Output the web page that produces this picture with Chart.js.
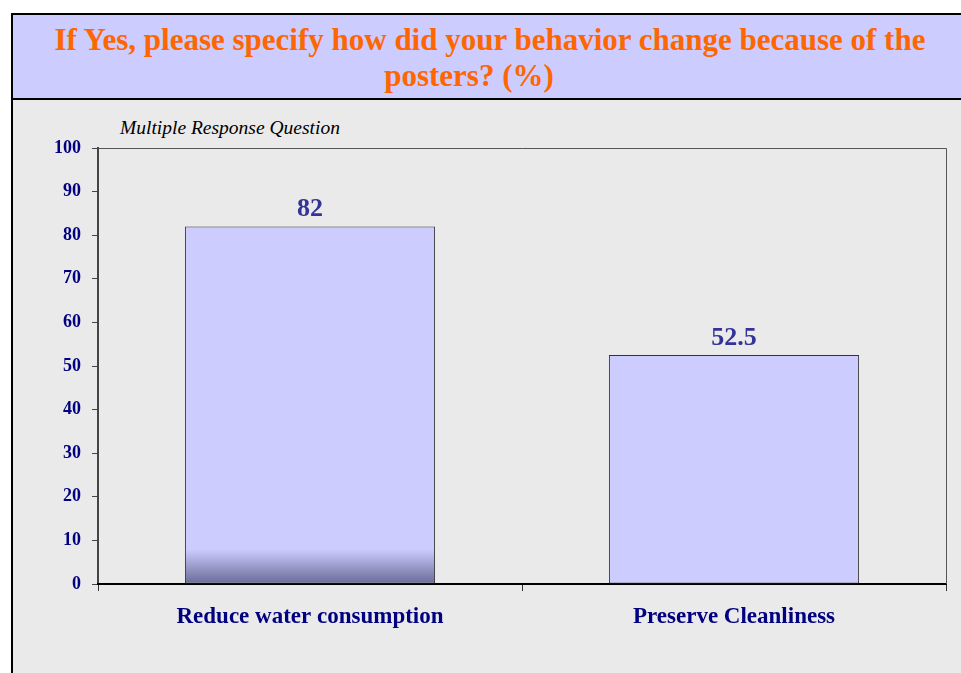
<!DOCTYPE html>
<html>
<head>
<meta charset="utf-8">
<script src="https://cdn.jsdelivr.net/npm/chart.js@4"></script>
<style>
  html, body { margin: 0; padding: 0; background: #ffffff; width: 961px; height: 673px; overflow: hidden; }
  #frame {
    position: absolute; left: 11px; top: 13px; width: 960px; height: 670px;
    border-left: 2px solid #000; border-top: 2px solid #000; background: #eaeaea;
  }
  #titleBand {
    position: absolute; left: 0; top: 0; width: 100%; height: 83px;
    background: #ccccff; border-bottom: 2px solid #000;
  }
  #titleText {
    position: absolute; left: 0; top: 7px; width: 954px; text-align: center;
    font: bold 31px "Liberation Serif", "Times New Roman", serif; line-height: 36px; color: #ff6600;
  }
  #titleText .l2 { padding-right: 42px; }
  #subNote {
    position: absolute; left: 107px; top: 102px;
    font: italic 19.5px "Liberation Serif", "Times New Roman", serif; color: #000;
  }
  #chartWrap { position: absolute; left: 2px; top: 87px; width: 948px; height: 573px; }
</style>
</head>
<body>
<div id="frame">
  <div id="titleBand">
    <div id="titleText">If Yes, please specify how did your behavior change because of the<br><span class="l2">posters? (%)</span></div>
  </div>
  <div id="subNote">Multiple Response Question</div>
  <div id="chartWrap"><canvas id="chart" width="948" height="573"></canvas></div>
</div>

<script>
// ---- data ----
const categories = ["Reduce water consumption", "Preserve Cleanliness"];
const values = [82, 52.5];
const yTicks = [0, 10, 20, 30, 40, 50, 60, 70, 80, 90, 100];

const SERIF = '"Liberation Serif", "Times New Roman", serif';

// frame on top + right of the plot area
const plotFrame = {
  id: "plotFrame",
  beforeDatasetsDraw(chart) {
    const { ctx, chartArea: a } = chart;
    ctx.save();
    ctx.strokeStyle = "#555";
    ctx.lineWidth = 1;
    ctx.beginPath();
    ctx.moveTo(a.left, a.top + 0.5);
    ctx.lineTo(a.right + 0.5, a.top + 0.5);
    ctx.lineTo(a.right + 0.5, a.bottom);
    ctx.stroke();
    ctx.restore();
  },
};

// value labels above the bars
const valueLabels = {
  id: "valueLabels",
  afterDatasetsDraw(chart) {
    const { ctx } = chart;
    const meta = chart.getDatasetMeta(0);
    ctx.save();
    ctx.font = "bold 26px " + SERIF;
    ctx.fillStyle = "#333399";
    ctx.textAlign = "center";
    ctx.textBaseline = "alphabetic";
    meta.data.forEach((bar, i) => {
      ctx.fillText(String(values[i]), bar.x, bar.y - 10);
    });
    ctx.restore();
  },
};

function barFill(c) {
  const chart = c.chart;
  const { ctx, chartArea } = chart;
  if (!chartArea) return "#ccccff";
  if (c.dataIndex !== 0) return "#ccccff";
  const y = chart.scales.y;
  const g = ctx.createLinearGradient(0, y.getPixelForValue(8), 0, y.getPixelForValue(0));
  g.addColorStop(0, "#ccccff");
  g.addColorStop(1, "#6a6a98");
  return g;
}

new Chart(document.getElementById("chart").getContext("2d"), {
  type: "bar",
  data: {
    labels: categories,
    datasets: [{
      data: values,
      backgroundColor: barFill,
      borderColor: "#333",
      borderWidth: 1,
      borderSkipped: false,
      barPercentage: 0.59,
      categoryPercentage: 1,
    }],
  },
  options: {
    responsive: false,
    animation: false,
    layout: { padding: { top: 46, right: 17, left: 0, bottom: 0 } },
    plugins: { legend: { display: false }, tooltip: { enabled: false } },
    scales: {
      y: {
        min: 0,
        max: 100,
        afterFit: (s) => { s.width = 83; },
        afterBuildTicks: (s) => { s.ticks = yTicks.map((v) => ({ value: v })); },
        border: { color: "#444", width: 2 },
        grid: { drawOnChartArea: false, drawTicks: true, tickLength: 6, color: "#444" },
        ticks: { color: "#000080", padding: 11, font: { family: SERIF, size: 18, weight: "bold" } },
      },
      x: {
        afterFit: (s) => { s.height = 91; },
        border: { color: "#000", width: 2 },
        grid: { offset: true, drawOnChartArea: false, drawTicks: true, tickLength: 7, color: "#333" },
        ticks: { color: "#000080", padding: 12, font: { family: SERIF, size: 23, weight: "bold" } },
      },
    },
  },
  plugins: [plotFrame, valueLabels],
});
</script>
</body>
</html>
